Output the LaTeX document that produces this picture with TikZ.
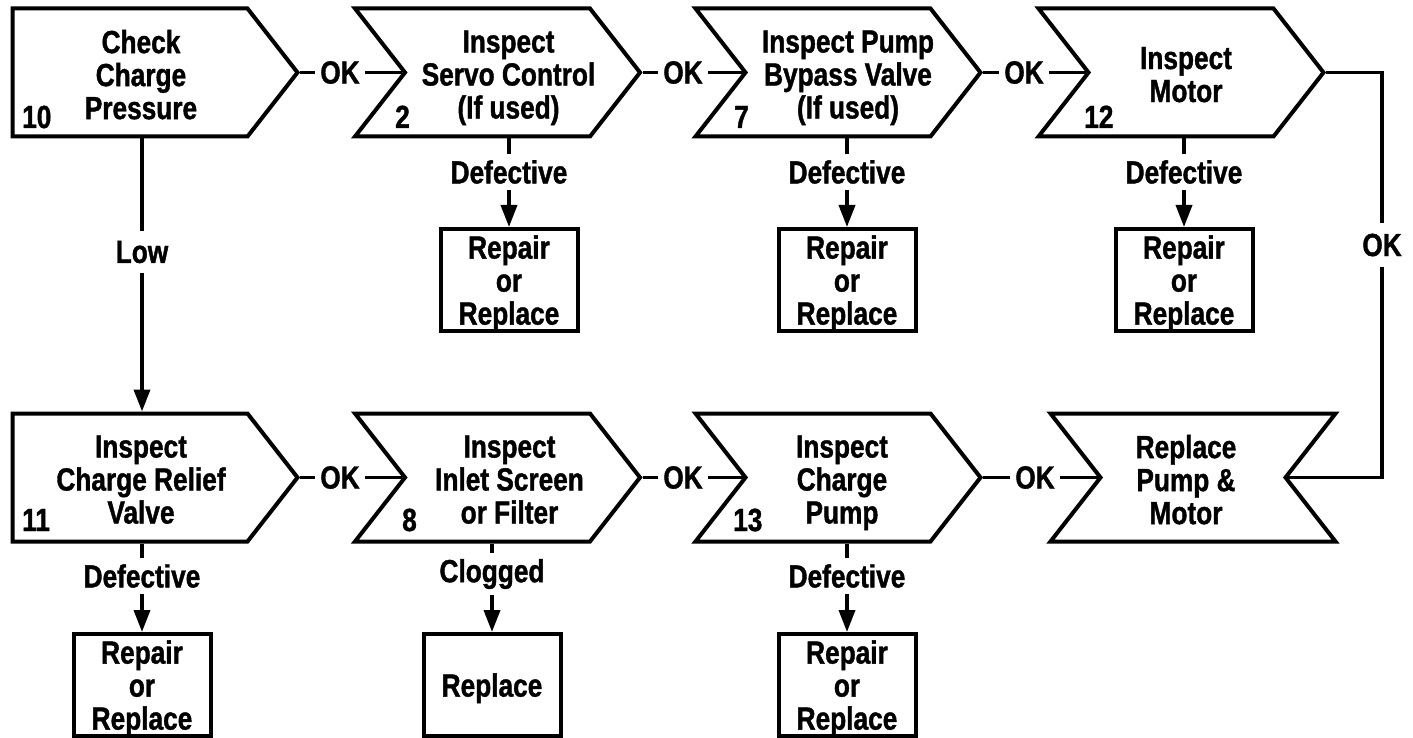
\documentclass[tikz,border=0pt]{standalone}
\usepackage{fontspec}
\setmainfont{Liberation Sans}[FakeStretch=0.82,BoldFeatures={FakeBold=1.2}]
\usetikzlibrary{shapes.symbols,arrows.meta}

\begin{document}
\begin{tikzpicture}[x=1pt,y=-1pt,>={Triangle[length=22pt,width=16pt]},
    every node/.style={font=\fontsize{32}{33}\selectfont\bfseries},
    stepbox/.style={shape=signal,draw,line width=4pt,signal pointer angle=104,
      minimum width=285pt,minimum height=128pt,inner sep=0pt},
    startbox/.style={stepbox,signal to=east},
    checkbox/.style={stepbox,signal from=west,signal to=east},
    endbox/.style={stepbox,signal from=west and east,signal to=nowhere},
    steptext/.style={align=center,text depth=0pt,inner sep=0pt,yshift=-2pt},
    fixbox/.style={draw,line width=4pt,minimum width=137pt,minimum height=102pt,
      inner sep=0pt,align=center,text depth=0pt},
    num/.style={anchor=base west,inner sep=0pt},
    lbl/.style={inner xsep=5pt,inner ysep=6pt},
    conn/.style={line width=3.6pt}]
    \useasboundingbox (0,0) rectangle (1413,738);

    % Top row of checks
    \node[startbox,label={[steptext,xshift=11pt]center:{Check\\Charge\\Pressure}}] (b10) at (130,72.5) {};
    \node[checkbox,label={[steptext,xshift=11pt]center:{Inspect\\Servo Control\\(If used)}}] (b2) at (497.5,72.5) {};
    \node[checkbox,label={[steptext,xshift=10pt]center:{Inspect Pump\\Bypass Valve\\(If used)}}] (b7) at (838,72.5) {};
    \node[checkbox,label={[steptext,xshift=5pt]center:{Inspect\\Motor}}] (b12) at (1181,72.5) {};

    % Bottom row of checks
    \node[startbox,label={[steptext,xshift=11pt]center:{Inspect\\Charge Relief\\Valve}}] (b11) at (130,477.5) {};
    \node[checkbox,label={[steptext,xshift=12pt]center:{Inspect\\Inlet Screen\\or Filter}}] (b8) at (497.5,477.5) {};
    \node[checkbox,label={[steptext,xshift=4pt]center:{Inspect\\Charge\\Pump}}] (b13) at (838,477.5) {};
    \node[endbox,label={[steptext,xshift=-7pt]center:{Replace\\Pump \&\\Motor}}] (bpm) at (1193,477.5) {};

    % Step numbers
    \node[num] (n10) at (22,128) {10};
    \node[num] (n2) at (395,128) {2};
    \node[num] (n7) at (734,128) {7};
    \node[num] (n12) at (1084,128) {12};
    \node[num] (n11) at (22,531) {11};
    \node[num] (n8) at (402,531) {8};
    \node[num] (n13) at (733,531) {13};

    % Remedies
    \node[fixbox] (r2) at (509,280) {Repair\\or\\Replace};
    \node[fixbox] (r7) at (847,280) {Repair\\or\\Replace};
    \node[fixbox] (r12) at (1184,280) {Repair\\or\\Replace};
    \node[fixbox] (r11) at (142,685) {Repair\\or\\Replace};
    \node[fixbox] (r8) at (492,685) {Replace};
    \node[fixbox] (r13) at (847,685) {Repair\\or\\Replace};

    % Branch labels
    \node[lbl] (d2) at (509,172) {Defective};
    \node[lbl] (d7) at (847,172) {Defective};
    \node[lbl] (d12) at (1184,172) {Defective};
    \node[lbl] (d11) at (142,576) {Defective};
    \node[lbl] (d8) at (492,574) {Clogged};
    \node[lbl] (d13) at (847,576) {Defective};
    \node[lbl,inner ysep=10pt] (low) at (142,252) {Low};
    \node[lbl] (ok1) at (340,72.5) {OK};
    \node[lbl] (ok2) at (683,72.5) {OK};
    \node[lbl] (ok3) at (1024,72.5) {OK};
    \node[lbl,inner ysep=10pt] (ok4) at (1382,245) {OK};
    \node[lbl] (ok5) at (340,477.5) {OK};
    \node[lbl] (ok6) at (683,477.5) {OK};
    \node[lbl] (ok7) at (1035,477.5) {OK};

    % OK chain
    \draw[conn] (b10.east) -- (ok1);
    \draw[conn] (ok1) -- (b2.west);
    \draw[conn] (b2.east) -- (ok2);
    \draw[conn] (ok2) -- (b7.west);
    \draw[conn] (b7.east) -- (ok3);
    \draw[conn] (ok3) -- (b12.west);
    \draw[conn] (b12.east) -| (ok4);
    \draw[conn] (ok4) |- (bpm.east);
    \draw[conn] (b11.east) -- (ok5);
    \draw[conn] (ok5) -- (b8.west);
    \draw[conn] (b8.east) -- (ok6);
    \draw[conn] (ok6) -- (b13.west);
    \draw[conn] (b13.east) -- (ok7);
    \draw[conn] (ok7) -- (bpm.west);

    % Low charge pressure
    \draw[conn] (b10.south -| low) -- (low);
    \draw[conn,->] (low) -- (b11.north -| low);

    % Faults
    \draw[conn] (b2.south -| d2) -- (d2);
    \draw[conn,->] (d2) -- (r2);
    \draw[conn] (b7.south -| d7) -- (d7);
    \draw[conn,->] (d7) -- (r7);
    \draw[conn] (b12.south -| d12) -- (d12);
    \draw[conn,->] (d12) -- (r12);
    \draw[conn] (b11.south -| d11) -- (d11);
    \draw[conn,->] (d11) -- (r11);
    \draw[conn] (b8.south -| d8) -- (d8);
    \draw[conn,->] (d8) -- (r8);
    \draw[conn] (b13.south -| d13) -- (d13);
    \draw[conn,->] (d13) -- (r13);
\end{tikzpicture}
\end{document}
